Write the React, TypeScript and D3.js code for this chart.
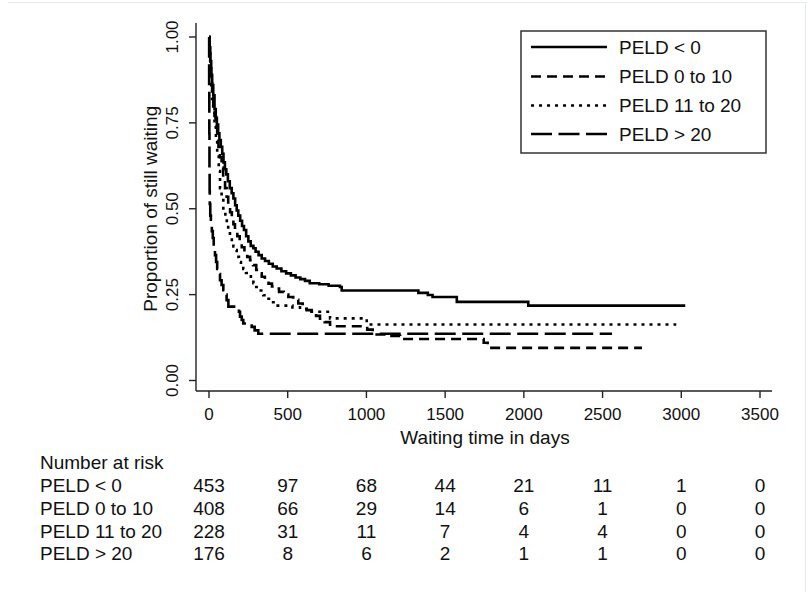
import React from "react";
import * as d3 from "d3";

// Kaplan–Meier estimates: [day, proportion still waiting]
const peldBelow0: [number, number][] = [
  [0, 1], [3, 0.97], [8, 0.93], [14, 0.89], [20, 0.86], [27, 0.83], [35, 0.79], [43, 0.765],
  [50, 0.745], [58, 0.72], [66, 0.7], [75, 0.68], [84, 0.66], [92, 0.635], [101, 0.615],
  [110, 0.6], [120, 0.58], [132, 0.56], [144, 0.545], [155, 0.53], [166, 0.51], [176, 0.495],
  [186, 0.48], [198, 0.465], [210, 0.45], [222, 0.438], [236, 0.42], [250, 0.405], [265, 0.392],
  [282, 0.385], [296, 0.375], [315, 0.365], [335, 0.355], [356, 0.348], [380, 0.34],
  [405, 0.332], [430, 0.326], [460, 0.318], [490, 0.312], [520, 0.306], [550, 0.3],
  [580, 0.295], [610, 0.29], [640, 0.283], [700, 0.28], [760, 0.276], [832, 0.272],
  [843, 0.262], [1330, 0.255], [1390, 0.249], [1420, 0.243], [1574, 0.229], [2028, 0.218],
  [3025, 0.218],
];

const peld0to10: [number, number][] = [
  [0, 1], [3, 0.96], [8, 0.92], [14, 0.88], [20, 0.84], [27, 0.8], [35, 0.77], [43, 0.74],
  [52, 0.71], [60, 0.68], [70, 0.65], [80, 0.62], [90, 0.59], [102, 0.56], [112, 0.535],
  [122, 0.514], [134, 0.49], [145, 0.47], [155, 0.455], [165, 0.437], [180, 0.42],
  [195, 0.4], [208, 0.388], [225, 0.372], [243, 0.36], [261, 0.35], [280, 0.336],
  [300, 0.322], [318, 0.312], [335, 0.302], [355, 0.292], [378, 0.282], [400, 0.274],
  [419, 0.268], [445, 0.258], [475, 0.25], [504, 0.243], [535, 0.235], [567, 0.224],
  [595, 0.215], [620, 0.205], [652, 0.195], [680, 0.188], [705, 0.18], [735, 0.17],
  [769, 0.158], [1005, 0.148], [1040, 0.141], [1065, 0.134], [1140, 0.13], [1214, 0.121],
  [1745, 0.11], [1770, 0.095], [2750, 0.095],
];

const peld11to20: [number, number][] = [
  [0, 1], [3, 0.95], [8, 0.9], [14, 0.86], [20, 0.82], [27, 0.78], [35, 0.74], [44, 0.7],
  [52, 0.66], [62, 0.61], [70, 0.56], [80, 0.53], [91, 0.496], [104, 0.47], [113, 0.455],
  [122, 0.437], [133, 0.415], [145, 0.4], [155, 0.39], [165, 0.38], [176, 0.36],
  [190, 0.345], [203, 0.335], [218, 0.325], [235, 0.313], [250, 0.303], [266, 0.292],
  [282, 0.283], [300, 0.272], [316, 0.262], [332, 0.255], [345, 0.248], [366, 0.238],
  [390, 0.228], [419, 0.218], [530, 0.213], [578, 0.208], [640, 0.2], [769, 0.181],
  [1002, 0.163], [2968, 0.163],
];

const peldAbove20: [number, number][] = [
  [0, 1], [1, 0.85], [2, 0.72], [3, 0.62], [4, 0.55], [5, 0.514], [8, 0.48], [12, 0.455],
  [18, 0.435], [24, 0.415], [30, 0.39], [38, 0.365], [45, 0.345], [52, 0.325], [60, 0.31],
  [70, 0.292], [80, 0.278], [91, 0.263], [100, 0.25], [112, 0.234], [123, 0.215],
  [190, 0.2], [197, 0.186], [208, 0.176], [218, 0.166], [245, 0.16], [271, 0.156],
  [290, 0.146], [313, 0.136], [2560, 0.136],
];

// Number-at-risk table
const riskTimes = [0, 500, 1000, 1500, 2000, 2500, 3000, 3500];
const riskBelow0 = [453, 97, 68, 44, 21, 11, 1, 0];
const risk0to10 = [408, 66, 29, 14, 6, 1, 0, 0];
const risk11to20 = [228, 31, 11, 7, 4, 4, 0, 0];
const riskAbove20 = [176, 8, 6, 2, 1, 1, 0, 0];

const groupLabels = ["PELD < 0", "PELD 0 to 10", "PELD 11 to 20", "PELD > 20"];
const xTicks = [0, 500, 1000, 1500, 2000, 2500, 3000, 3500];
const yTicks = [0, 0.25, 0.5, 0.75, 1];

const W = 807;
const H = 592;
const FONT = "'Liberation Sans', Arial, Helvetica, sans-serif";

export default function App() {
  const x = d3.scaleLinear().domain([0, 3500]).range([209, 760]);
  const y = d3.scaleLinear().domain([0, 1]).range([380.5, 37]);

  const axisLeft = 196;
  const axisBottom = 391;
  const axisRight = 772;
  const axisTop = 23;

  const line = d3
    .line<[number, number]>()
    .x((d) => x(d[0]))
    .y((d) => y(d[1]))
    .curve(d3.curveStepAfter);

  const series = [
    { data: peldBelow0, dash: "none" },
    { data: peld0to10, dash: "10 6" },
    { data: peld11to20, dash: "3 5" },
    { data: peldAbove20, dash: "21 6.5" },
  ];
  const risks = [riskBelow0, risk0to10, risk11to20, riskAbove20];

  const legendX = 521;
  const legendY = 31;
  const legendW = 245;
  const legendH = 122;
  const legendRows = [47, 76.5, 105.5, 134];

  const riskRows = [485, 508, 531, 553];

  return (
    <svg
      width={W}
      height={H}
      viewBox={`0 0 ${W} ${H}`}
      style={{ position: "absolute", left: 0, top: 0, background: "#fff" }}
      fontFamily={FONT}
    >
      <rect x={0} y={0} width={W} height={H} fill="#fff" />
      {/* faint outer frame */}
      <line x1={8} x2={W} y1={2.5} y2={2.5} stroke="#e4ebee" strokeWidth={1} />
      <line x1={805.5} x2={805.5} y1={2.5} y2={H} stroke="#e4ebee" strokeWidth={1} />

      {/* axes */}
      <line x1={axisLeft} x2={axisLeft} y1={axisTop} y2={axisBottom} stroke="#222" strokeWidth={1.4} />
      <line x1={axisLeft} x2={axisRight} y1={axisBottom} y2={axisBottom} stroke="#222" strokeWidth={1.4} />
      {yTicks.map((t) => (
        <g key={"y" + t}>
          <line x1={axisLeft - 7} x2={axisLeft} y1={y(t)} y2={y(t)} stroke="#222" strokeWidth={1.4} />
          <text
            transform={`translate(172,${y(t)}) rotate(-90)`}
            textAnchor="middle"
            dy="0.35em"
            fontSize={17}
            fill="#111"
          >
            {t.toFixed(2)}
          </text>
        </g>
      ))}
      {xTicks.map((t) => (
        <g key={"x" + t}>
          <line x1={x(t)} x2={x(t)} y1={axisBottom} y2={axisBottom + 7} stroke="#222" strokeWidth={1.4} />
          <text x={x(t)} y={414} textAnchor="middle" dy="0.35em" fontSize={17} fill="#111">
            {t}
          </text>
        </g>
      ))}
      <text x={485} y={437} textAnchor="middle" dy="0.35em" fontSize={19} fill="#111">
        Waiting time in days
      </text>
      <text
        transform={`translate(150,${y(0.5)}) rotate(-90)`}
        textAnchor="middle"
        dy="0.35em"
        fontSize={19}
        fill="#111"
      >
        Proportion of still waiting
      </text>

      {/* survival curves */}
      {series.map((s, i) => (
        <path
          key={"c" + i}
          d={line(s.data) || ""}
          fill="none"
          stroke="#000"
          strokeWidth={2.6}
          strokeDasharray={s.dash}
          strokeLinejoin="miter"
        />
      ))}

      {/* legend */}
      <rect
        x={legendX}
        y={legendY}
        width={legendW}
        height={legendH}
        fill="#fff"
        stroke="#333"
        strokeWidth={1.5}
      />
      {groupLabels.map((g, i) => (
        <g key={"l" + i}>
          <line
            x1={531}
            x2={607}
            y1={legendRows[i]}
            y2={legendRows[i]}
            stroke="#000"
            strokeWidth={2.6}
            strokeDasharray={series[i].dash}
          />
          <text x={619} y={legendRows[i]} dy="0.35em" fontSize={19} fill="#111">
            {g}
          </text>
        </g>
      ))}

      {/* number at risk */}
      <text x={40} y={462} dy="0.35em" fontSize={19} fill="#111">
        Number at risk
      </text>
      {groupLabels.map((g, i) => (
        <g key={"r" + i}>
          <text x={40} y={riskRows[i]} dy="0.35em" fontSize={19} fill="#111">
            {g}
          </text>
          {risks[i].map((v, j) => (
            <text
              key={j}
              x={x(riskTimes[j])}
              y={riskRows[i]}
              dy="0.35em"
              textAnchor="middle"
              fontSize={19}
              fill="#111"
            >
              {v}
            </text>
          ))}
        </g>
      ))}
    </svg>
  );
}
